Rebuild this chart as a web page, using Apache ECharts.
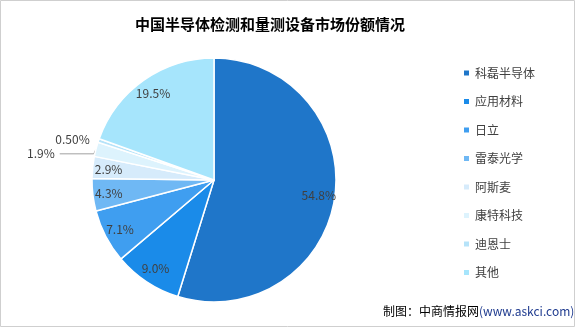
<!DOCTYPE html>
<html><head><meta charset="utf-8">
<script src="https://cdn.jsdelivr.net/npm/echarts@6/dist/echarts.min.js"></script>
<style>html,body{margin:0;padding:0;background:#fff}#c{width:575px;height:327px}</style>
</head><body><div id="c"></div>
<script>
const categories = ['科磊半导体','应用材料','日立','雷泰光学','阿斯麦','康特科技','迪恩士','其他'];
const shares = [54.8, 9.0, 7.1, 4.3, 2.9, 1.9, 0.5, 19.5];
const shareLabels = ['54.8%','9.0%','7.1%','4.3%','2.9%','1.9%','0.50%','19.5%'];
const colors = ['#1f76c9','#1a8be9','#3f9ef0','#6fb8f4','#d6ebfb','#ddf3fd','#b6e3f9','#a6e5fc'];
const outsideNames = ['康特科技','迪恩士'];

const FONT = "'Microsoft YaHei','Noto Sans CJK SC',sans-serif";
const CX = 214, CY = 180, R = 122;

const mainData = categories.map((n,i)=>{
  const d = {name:n, value:shares[i], itemStyle:{color:colors[i]}};
  if (outsideNames.includes(n)) {
    const hideLine = n === '迪恩士';
    d.label = {show:true, position:'outside'};
    d.labelLine = hideLine ? {show:false, length:2, length2:2} : {show:true, length:4, length2:34, lineStyle:{color:'#a0a0a0', width:1}};
  }
  return d;
});
const labelData = categories.map((n,i)=>({
  name:n, value:shares[i],
  label:{show: !outsideNames.includes(n)}
}));

const chart = echarts.init(document.getElementById('c'));
chart.setOption({
  animation:false,
  color: colors,
  graphic:[
    {type:'rect', shape:{x:0.5,y:0.5,width:574,height:326}, style:{fill:'none', stroke:'#cfcfcf', lineWidth:1}, silent:true, z:-1},
    {type:'text', left:383, top:305, style:{
      text:'{a|制图：中商情报网}{b|(www.askci.com)}',
      rich:{a:{fontSize:12, fontFamily:FONT, fill:'#000'}, b:{fontSize:12, fontFamily:FONT, fill:'#1f3b8f'}}
    }}
  ],
  title:{text:'中国半导体检测和量测设备市场份额情况', left:130, top:12,
    textStyle:{fontSize:15, fontWeight:'bold', color:'#000', fontFamily:FONT}},
  legend:{
    orient:'vertical', left:457, top:62, itemWidth:7, itemHeight:7, itemGap:16.5,
    icon:'rect', data:categories,
    textStyle:{fontSize:12, color:'#404040', fontFamily:FONT}
  },
  series:[
    {
      type:'pie', center:[CX,CY], radius:[0,R], startAngle:90, clockwise:true,
      avoidLabelOverlap:true,
      itemStyle:{borderColor:'#fff', borderWidth:1.5},
      label:{show:false, formatter:(p)=>shareLabels[p.dataIndex], fontSize:12, color:'#404040', fontFamily:FONT},
      emphasis:{disabled:true},
      data: mainData
    },
    {
      type:'pie', center:[CX,CY], radius:[84,R], startAngle:90, clockwise:true, silent:true,
      itemStyle:{color:'rgba(0,0,0,0)'},
      label:{position:'inside', formatter:(p)=>shareLabels[p.dataIndex], fontSize:12, color:'#404040', fontFamily:FONT},
      labelLine:{show:false},
      emphasis:{disabled:true},
      data: labelData
    }
  ]
});
</script></body></html>
